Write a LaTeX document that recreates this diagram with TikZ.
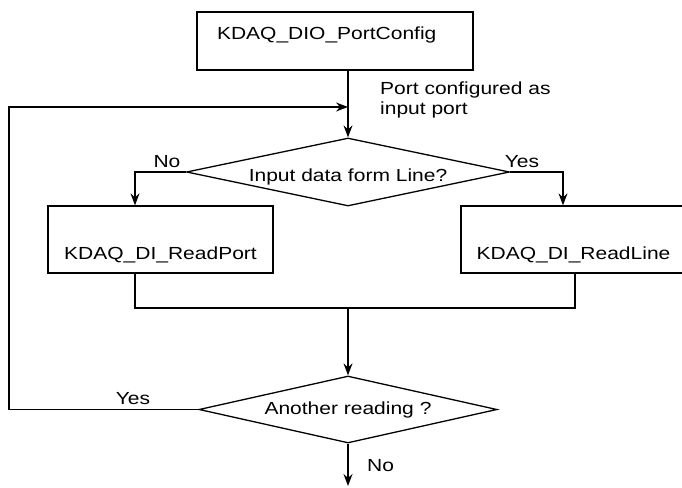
\documentclass[tikz,border=0pt]{standalone}
\usepackage{fontspec}
\setmainfont[FakeStretch=1.2]{Liberation Sans}
\usetikzlibrary{shapes.geometric,arrows.meta}

\tikzset{
  flow/.style={line width=1.3pt},
  arr/.style={flow, -{Stealth[length=12pt,width=9pt,inset=4pt]}},
  box/.style={draw, flow, rectangle, minimum height=67pt, inner sep=0pt},
  decision/.style={draw, flow, diamond, inner sep=0pt},
  txt/.style={inner sep=0pt}
}

\begin{document}
\begin{tikzpicture}[x=1pt, y=-1pt, font=\fontsize{17.5}{20}\selectfont]
    \clip (0,0) rectangle (682,487);

    \node[box, minimum width=276pt, minimum height=58pt, text width=236pt,
          align=left, text height=12pt, text depth=15pt] at (335, 41) (cfg) {KDAQ\_DIO\_PortConfig};
    \node[decision, aspect=4.75, minimum width=323pt, minimum height=68pt] at (348, 172) (line) {\raisebox{-5pt}[\height][\depth]{Input data form Line?}};
    \node[box, minimum width=225pt, text height=43pt, text depth=4pt] at (160.5, 239.5) (rdport) {KDAQ\_DI\_ReadPort};
    \node[box, minimum width=225pt, text height=43pt, text depth=4pt] at (573.5, 239.5) (rdline) {KDAQ\_DI\_ReadLine};
    \node[decision, aspect=4.45, minimum width=298pt, minimum height=67pt] at (348, 409.5) (again) {Another reading ?};

    \coordinate (join) at (348, 107);
    \coordinate (merge) at (348, 308);
    \coordinate (done) at (348, 486);

    % config -> decision, with the loop coming back in at join
    \draw[flow] (cfg.south -| join) -- (join);
    \draw[arr] (join) -- (line.north);
    \node[txt, anchor=west, align=left] at (380, 100) (note) {Port configured as\\input port};

    % branches
    \draw[arr] (line.west) -| (rdport.north -| 135, 0);
    \draw[arr] (line.east) -| (rdline.north -| 563, 0);
    \node[txt] at (167, 162) (no1) {No};
    \node[txt] at (522, 162) (yes1) {Yes};

    % merge
    \draw[flow] (rdport.south -| 135, 0) |- (merge);
    \draw[flow] (rdline.south -| 575, 0) |- (merge);
    \draw[arr] (merge) -- (again.north);

    % loop back and exit
    \draw[arr] (again.west) -| (9, 250) |- (join);
    \node[txt] at (133, 399) (yes2) {Yes};
    \draw[arr] (again.south) -- (done);
    \node[txt, anchor=west] at (367, 466) (no2) {No};
\end{tikzpicture}
\end{document}
